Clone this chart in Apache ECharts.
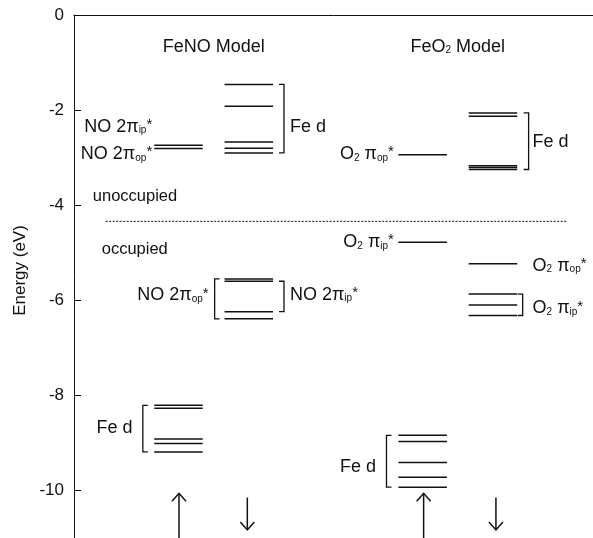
<!DOCTYPE html>
<html lang="en">
<head>
<meta charset="UTF-8">
<title>FeNO / FeO2 levels</title>
<script src="https://cdn.jsdelivr.net/npm/echarts@6.0.0/dist/echarts.min.js"></script>
<style>
    html, body { margin: 0; padding: 0; background: #fff; }
    #chart { width: 593px; height: 538px; }
</style>
</head>
<body>
<div id="chart"></div>
<script>
// orbital energies in eV
const feNoUnoccUp = [-2.74, -2.81];                          // NO 2pi_ip*, NO 2pi_op*
const feNoUnoccDown = [-1.46, -1.92, -2.67, -2.80, -2.90];   // Fe d
const feNoOccDown = [-5.55, -5.60, -6.24, -6.39];            // NO 2pi*
const feNoOccUp = [-8.21, -8.27, -8.92, -9.01, -9.19];       // Fe d
const feO2UnoccUp = [-2.94];                                 // O2 pi_op*
const feO2UnoccDown = [-2.06, -2.13, -3.17, -3.21, -3.25];   // Fe d
const feO2OccUpPi = [-4.78];                                 // O2 pi_ip*
const feO2OccDownOp = [-5.23];                               // O2 pi_op*
const feO2OccDownIp = [-5.87, -6.10, -6.32];                 // O2 pi_ip*
const feO2OccUpFe = [-8.84, -8.97, -9.41, -9.72, -9.93];     // Fe d
const fermiLevel = -4.34;
const yTicks = [0, -2, -4, -6, -8, -10];

// layout (x axis runs one unit per pixel from the left axis)
const LEFT = 74;
const px = v => v - LEFT;
const HALF = 24.5;
const col = { noUp: px(179.5), noDown: px(250.5), o2Up: px(426), o2Down: px(497) };
const FONT = '"Liberation Sans", Arial, sans-serif';
const INK = '#111';

const levels = [];
function addLevels(x, arr) { arr.forEach(e => levels.push([x, e])); }
addLevels(col.noUp, feNoUnoccUp);
addLevels(col.noDown, feNoUnoccDown);
addLevels(col.noDown, feNoOccDown);
addLevels(col.noUp, feNoOccUp);
addLevels(col.o2Up, feO2UnoccUp);
addLevels(col.o2Down, feO2UnoccDown);
addLevels(col.o2Up, feO2OccUpPi);
addLevels(col.o2Down, feO2OccDownOp);
addLevels(col.o2Down, feO2OccDownIp);
addLevels(col.o2Up, feO2OccUpFe);

const brackets = [
    { x: px(286), dir: -1, group: feNoUnoccDown },
    { x: px(216), dir: 1, group: feNoOccDown },
    { x: px(286), dir: -1, group: feNoOccDown.slice(1, 3) },
    { x: px(143.5), dir: 1, group: feNoOccUp },
    { x: px(533), dir: -1, group: feO2UnoccDown },
    { x: px(527), dir: -1, group: feO2OccDownIp },
    { x: px(389.5), dir: 1, group: feO2OccUpFe }
];

const labels = [
    { t: 'FeNO Model', x: px(215), e: -0.667, align: 'center', big: true },
    { t: 'FeO{sub|2} Model', x: px(461.5), e: -0.667, align: 'center', big: true },
    { t: 'NO 2π{sub|ip}{sup|*}', x: px(153), e: -2.35, align: 'right' },
    { t: 'NO 2π{sub|op}{sup|*}', x: px(153), e: -2.92, align: 'right' },
    { t: 'Fe d', x: px(292), e: -2.36, align: 'left' },
    { t: 'unoccupied', x: px(93), e: -3.81, align: 'left', small: true },
    { t: 'occupied', x: px(102), e: -4.94, align: 'left', small: true },
    { t: 'NO 2π{sub|op}{sup|*}', x: px(210), e: -5.90, align: 'right' },
    { t: 'NO 2π{sub|ip}{sup|*}', x: px(292), e: -5.88, align: 'left' },
    { t: 'Fe d', x: px(133), e: -8.69, align: 'right' },
    { t: 'O{sub|2} π{sub|op}{sup|*}', x: px(397), e: -2.92, align: 'right' },
    { t: 'Fe d', x: px(537), e: -2.67, align: 'left' },
    { t: 'O{sub|2} π{sub|ip}{sup|*}', x: px(397), e: -4.77, align: 'right' },
    { t: 'O{sub|2} π{sub|op}{sup|*}', x: px(537), e: -5.27, align: 'left' },
    { t: 'O{sub|2} π{sub|ip}{sup|*}', x: px(537), e: -6.17, align: 'left' },
    { t: 'Fe d', x: px(379), e: -9.50, align: 'right' }
];

// spin arrows: +1 up, -1 down
const arrows = [[px(180), 1], [px(249), -1], [px(427), 1], [px(500), -1]];

const rich = {
    sub: { fontSize: 10, fontFamily: FONT, fill: INK, color: INK, verticalAlign: 'bottom' },
    sup: { fontSize: 15, fontFamily: FONT, fill: INK, color: INK, verticalAlign: 'top' }
};

const chart = echarts.init(document.getElementById('chart'));
chart.setOption({
    animation: false,
    backgroundColor: '#fff',
    grid: { left: LEFT, top: 15, right: -5, bottom: -5 },
    xAxis: {
        type: 'value', min: 0, max: 524, position: 'top',
        axisLine: { show: true, onZero: false, lineStyle: { color: INK, width: 1 } },
        axisTick: { show: false }, axisLabel: { show: false }, splitLine: { show: false }
    },
    yAxis: {
        type: 'value', min: -11, max: 0,
        name: 'Energy (eV)', nameLocation: 'middle', nameGap: 44,
        nameTextStyle: { fontSize: 17, color: INK, fontFamily: FONT, padding: [0, 0, 0, 12] },
        axisLine: { show: true, onZero: false, lineStyle: { color: INK, width: 1 } },
        axisTick: { show: true, inside: true, length: 7, customValues: yTicks, lineStyle: { color: INK } },
        axisLabel: { customValues: yTicks, fontSize: 17, color: INK, fontFamily: FONT, margin: 10 },
        splitLine: { show: false }
    },
    series: [
        {
            type: 'custom', name: 'levels', silent: true, clip: false,
            data: levels,
            renderItem: function (params, api) {
                const x = api.value(0), e = api.value(1);
                const a = api.coord([x - HALF, e]);
                const b = api.coord([x + HALF, e]);
                return {
                    type: 'line',
                    shape: { x1: a[0], y1: a[1], x2: b[0], y2: b[1] },
                    style: { stroke: INK, lineWidth: 1.5 }
                };
            }
        },
        {
            type: 'custom', name: 'brackets', silent: true, clip: false,
            data: brackets.map(b => [b.x, Math.max(...b.group), Math.min(...b.group), b.dir]),
            renderItem: function (params, api) {
                const x = api.value(0), top = api.value(1), bot = api.value(2), dir = api.value(3);
                const pts = [
                    api.coord([x + dir * 5, top]), api.coord([x, top]),
                    api.coord([x, bot]), api.coord([x + dir * 5, bot])
                ];
                return { type: 'polyline', shape: { points: pts }, style: { stroke: INK, lineWidth: 1.3, fill: null } };
            }
        },
        {
            type: 'custom', name: 'fermi', silent: true, clip: false,
            data: [[fermiLevel]],
            renderItem: function (params, api) {
                const e = api.value(0);
                const a = api.coord([px(106), e]);
                const b = api.coord([px(572), e]);
                return {
                    type: 'line',
                    shape: { x1: a[0], y1: a[1], x2: b[0], y2: b[1] },
                    style: { stroke: INK, lineWidth: 1, lineDash: [2, 1.5] }
                };
            }
        },
        {
            type: 'custom', name: 'arrows', silent: true, clip: false,
            data: arrows,
            renderItem: function (params, api) {
                const x = api.value(0), dir = api.value(1);
                const tail = api.coord([x, dir > 0 ? -11 : -10.15]);
                const tip = api.coord([x, dir > 0 ? -10.06 : -10.83]);
                const h = dir > 0 ? 8 : -8;
                return {
                    type: 'group',
                    children: [
                        { type: 'line', shape: { x1: tail[0], y1: tail[1], x2: tip[0], y2: tip[1] }, style: { stroke: INK, lineWidth: 1.5 } },
                        { type: 'polyline', shape: { points: [[tip[0] - 7, tip[1] + h], tip, [tip[0] + 7, tip[1] + h]] }, style: { stroke: INK, lineWidth: 1.5, fill: null } }
                    ]
                };
            }
        },
        {
            type: 'custom', name: 'labels', silent: true, clip: false,
            data: labels.map(l => [l.x, l.e]),
            renderItem: function (params, api) {
                const l = labels[params.dataIndex];
                const p = api.coord([api.value(0), api.value(1)]);
                return {
                    type: 'text', x: p[0], y: p[1],
                    style: {
                        text: l.t, rich: rich,
                        fontSize: l.big ? 18 : (l.small ? 16.5 : 18),
                        fontFamily: FONT, fill: INK,
                        align: l.align, verticalAlign: 'middle'
                    }
                };
            }
        }
    ]
});
</script>
</body>
</html>
